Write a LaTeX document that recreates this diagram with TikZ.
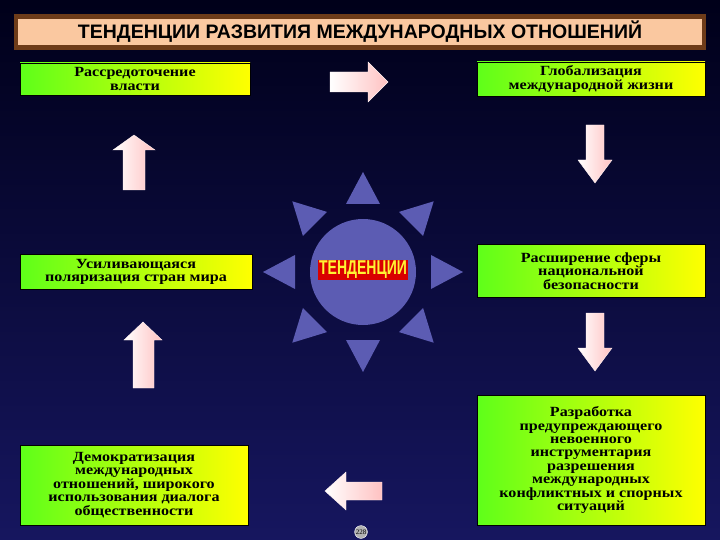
\documentclass[tikz,border=0pt]{standalone}
\usepackage{fontspec}
\setmainfont{Liberation Serif}
\newfontfamily\titlefont{Liberation Sans}
\newfontfamily\narrowfont[FakeStretch=0.7]{Liberation Sans}
\newfontfamily\boxfont[FakeStretch=1.15]{Liberation Serif}
\usetikzlibrary{shapes.geometric}
\begin{document}
\begin{tikzpicture}[x=1pt,y=-1pt,
  box/.style={draw=black,line width=0.8pt,left color=green!70!yellow!90!white,right color=yellow,
    font=\boxfont\bfseries\fontsize{14}{13.4}\selectfont,align=center,inner sep=1pt},
  arr/.style={draw=white!80!pink,line width=0.4pt,left color=white,right color=pink!80!red!60!white},
  ray/.style={fill=blue!45!black!60!white!90!blue}]
\useasboundingbox (0,0) rectangle (720,540);
\shade[top color=black!90!blue,bottom color={rgb,255:red,22;green,22;blue,95}] (0,0) rectangle (720,540);
% title
\fill[fill={rgb,255:red,110;green,60;blue,25}] (14,14) rectangle (706,50);
\node[fill={rgb,255:red,250;green,200;blue,160},minimum width=684,minimum height=26,inner sep=0,
  font=\titlefont\bfseries\fontsize{19.5}{19.5}\selectfont] (title) at (360,32) {ТЕНДЕНЦИИ РАЗВИТИЯ МЕЖДУНАРОДНЫХ ОТНОШЕНИЙ};
% boxes
\node[box,minimum width=230,minimum height=32] (b1) at (135,79) {Рассредоточение\\власти};
\node[box,minimum width=228,minimum height=34] (b2) at (591,79) {Глобализация\\международной жизни};
\node[box,minimum width=232,minimum height=35] (b3) at (136,272) {Усиливающаяся\\поляризация стран мира};
\node[box,minimum width=228,minimum height=53] (b4) at (591,271) {Расширение сферы\\национальной\\безопасности};
\node[box,minimum width=228,minimum height=80] (b5) at (134,485) {Демократизация\\международных\\отношений, широкого\\использования диалога\\общественности};
\node[box,minimum width=228,minimum height=130] (b6) at (591,460) {Разработка\\предупреждающего\\невоенного\\инструментария\\разрешения\\международных\\конфликтных и спорных\\ситуаций};
% arrows
\draw[arr] (330,72) -- (368,72) -- (368,62) -- (388,82) -- (368,102) -- (368,92) -- (330,92) -- cycle;
\draw[arr] (586,125) -- (604,125) -- (604,160) -- (612,160) -- (595,183) -- (578,160) -- (586,160) -- cycle;
\draw[arr] (586,313) -- (604,313) -- (604,348) -- (612,348) -- (595,371) -- (578,348) -- (586,348) -- cycle;
\draw[arr] (123,190) -- (145,190) -- (145,150) -- (155,150) -- (134,135) -- (113,150) -- (123,150) -- cycle;
\draw[arr] (133,388) -- (154,388) -- (154,340) -- (162,340) -- (143,322) -- (124,340) -- (133,340) -- cycle;
\draw[arr] (382,482) -- (346,482) -- (346,472) -- (325,491) -- (346,510) -- (346,500) -- (382,500) -- cycle;
% sun
\foreach \a in {0,45,...,315}{
  \fill[ray,shift={(363,272)},rotate=-\a] (68,-17) -- (100,0) -- (68,17) -- cycle;
}
\node[circle,fill=blue!45!black!60!white!90!blue,minimum size=106,inner sep=0] (sun) at (363,272) {};
\node[fill=red!85!black,text=yellow!80!white,inner sep=1pt,font=\narrowfont\bfseries\fontsize{20}{20}\selectfont] (tl) at (363,270) {ТЕНДЕНЦИИ};
\node[circle,draw=white,fill=gray!60,inner sep=0.5pt,font=\fontsize{7}{7}\selectfont] (pg) at (361,532) {228};
\end{tikzpicture}
\end{document}
